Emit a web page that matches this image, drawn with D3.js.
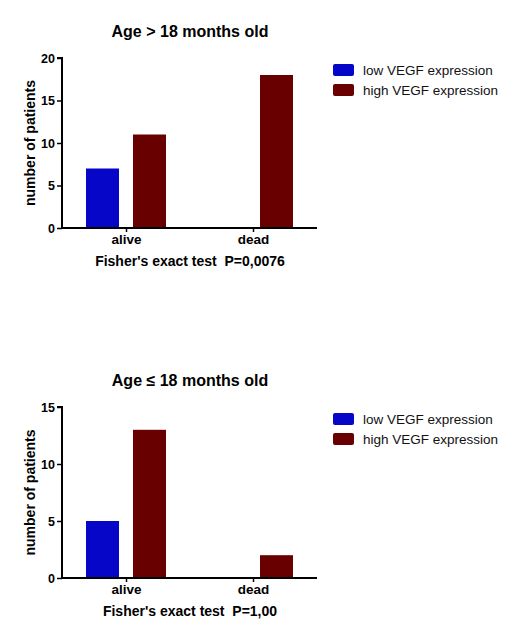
<!DOCTYPE html>
<html><head><meta charset="utf-8">
<script src="https://cdn.jsdelivr.net/npm/d3@7"></script>
<style>body{margin:0;background:#fff;font-family:Arial,"Liberation Sans",sans-serif;}</style>
</head><body><svg id="c" width="529" height="640"></svg>
<script>
const categories = ["alive", "dead"];
const seriesNames = ["low VEGF expression", "high VEGF expression"];
const colors = ["#0606c8", "#680000"];
const panel1Low = [7, 0];
const panel1High = [11, 18];
const panel2Low = [5, 0];
const panel2High = [13, 2];
const panel1Ticks = [0, 5, 10, 15, 20];
const panel2Ticks = [0, 5, 10, 15];
const titles = ["Age > 18 months old", "Age \u2264 18 months old"];
const footers = ["Fisher's exact test  P=0,0076", "Fisher's exact test  P=1,00"];

const svg = d3.select("#c");
const font = 'Arial,"Liberation Sans",sans-serif';

function panel(oy, low, high, ticks, ymax, yTop, title, footer) {
  const g = svg.append("g").attr("transform", `translate(0,${oy})`);
  const x0 = 62, x1 = 317, yBase = 228;
  const y = d3.scaleLinear().domain([0, ymax]).range([yBase, yTop]);
  const xc = d3.scalePoint().domain(categories).range([126, 253]);
  const sub = d3.scaleBand().domain([0, 1]).range([-40, 40]).paddingInner(0.298).paddingOuter(0);
  categories.forEach((c, i) => {
    [low[i], high[i]].forEach((v, s) => {
      if (v <= 0) return;
      g.append("rect")
        .attr("x", xc(c) + sub(s))
        .attr("width", sub.bandwidth())
        .attr("y", y(v))
        .attr("height", yBase - y(v))
        .attr("fill", colors[s]);
    });
  });
  const ya = g.append("g").attr("transform", `translate(${x0},0)`)
    .call(d3.axisLeft(y).tickValues(ticks).tickSize(5).tickPadding(2));
  ya.select(".domain").attr("stroke", "#000").attr("stroke-width", 2).attr("d", `M-5,${yTop}H0V${yBase}`);
  ya.selectAll(".tick line").attr("stroke-width", 1.5);
  ya.selectAll("text").attr("font-size", 12.5).attr("font-weight", "bold").attr("font-family", font).attr("fill", "#000");
  const xa = g.append("g").attr("transform", `translate(0,${yBase})`)
    .call(d3.axisBottom(xc).tickSize(4).tickPadding(2));
  xa.select(".domain").attr("stroke-width", 2).attr("d", `M${x0},0H${x1}`);
  xa.selectAll(".tick line").attr("stroke-width", 1.5);
  xa.selectAll("text").attr("font-size", 13.5).attr("font-weight", "bold").attr("font-family", font).attr("fill", "#000");
  g.append("text").attr("transform", `translate(35,${(yTop + yBase) / 2}) rotate(-90)`)
    .attr("text-anchor", "middle").attr("font-size", 14).attr("font-weight", "bold")
    .attr("font-family", font).text("number of patients");
  g.append("text").attr("x", 190).attr("y", yTop - 21).attr("text-anchor", "middle")
    .attr("font-size", 16).attr("font-weight", "bold").attr("font-family", font).text(title);
  g.append("text").attr("x", 190).attr("y", yBase + 38).attr("text-anchor", "middle")
    .attr("xml:space", "preserve").style("white-space", "pre")
    .attr("font-size", 14).attr("font-weight", "bold").attr("font-family", font).text(footer);
  seriesNames.forEach((n, i) => {
    g.append("rect").attr("x", 333).attr("y", yTop + 6 + i * 20).attr("width", 21).attr("height", 12)
      .attr("rx", 2).attr("fill", colors[i]);
    g.append("text").attr("x", 363).attr("y", yTop + 17 + i * 20).attr("font-size", 13.5)
      .attr("font-family", font).attr("fill", "#111").text(n);
  });
}
panel(0, panel1Low, panel1High, panel1Ticks, 20, 58, titles[0], footers[0]);
panel(350, panel2Low, panel2High, panel2Ticks, 15, 57, titles[1], footers[1]);
</script></body></html>
